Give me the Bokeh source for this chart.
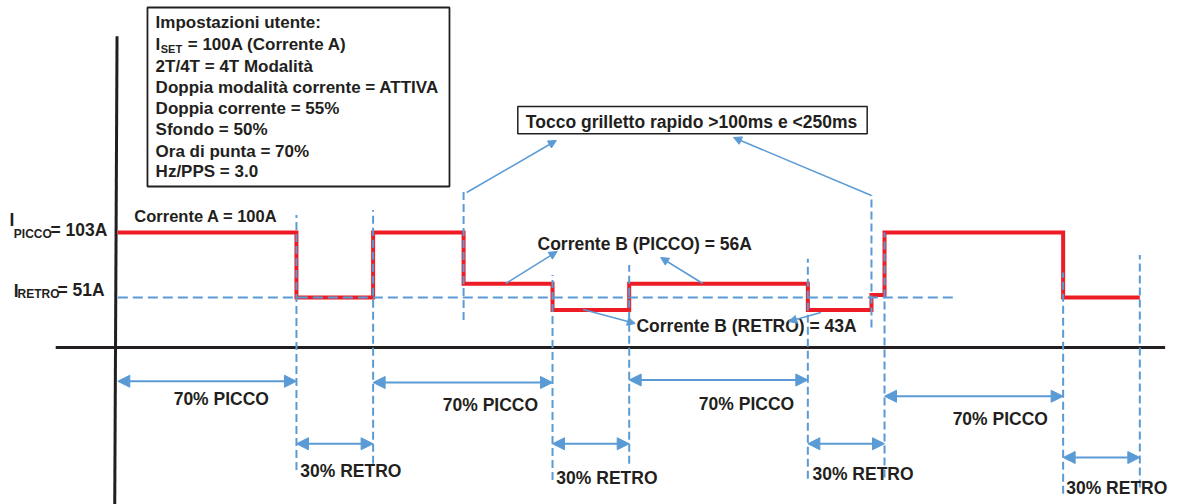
from bokeh.plotting import figure
from bokeh.models import Range1d, Arrow, NormalHead, ColumnDataSource
from bokeh.core.properties import value
from bokeh.embed import file_html
from bokeh.resources import INLINE

# ---------------- data ----------------
# waveform: time breakpoints (ms) and drawn current level (A) of each segment
t_edges = [0, 233, 333, 451, 567, 667, 900, 983, 1000, 1233, 1333]
levels = [103, 51, 103, 62, 41, 62, 41, 53, 103, 51]

# duration spans (ms) and their labels
span_start = [0, 233, 333, 567, 667, 900, 1000, 1233]
span_end = [233, 333, 567, 667, 900, 1000, 1233, 1333]
span_labels = ["70% PICCO", "30% RETRO", "70% PICCO", "30% RETRO",
               "70% PICCO", "30% RETRO", "70% PICCO", "30% RETRO"]
span_arrow_y = [-16, -66, -17, -66, -15, -66, -28, -77]
span_label_x = [135, 238, 486, 572, 820, 906, 1151, 1237]
span_label_y = [-30, -88, -35, -93, -34, -90, -46, -101]
span_label_align = ["center", "left", "center", "left", "center", "left", "center", "left"]

# dashed time markers (ms) with their vertical extent (A)
marker_t = [233, 333, 451, 567, 667, 900, 983, 1000, 1233, 1333]
marker_top = [117, 121, 137, 69, 77, 82, 133, 103, 71, 85]
marker_bottom = [-87, -82, 33, -95, -82, -94, 27, -93, -106, -101]

retro_level = 51
settings = ["Impostazioni utente:", "", "2T/4T = 4T Modalità",
            "Doppia modalità corrente = ATTIVA", "Doppia corrente = 55%",
            "Sfondo = 50%", "Ora di punta = 70%", "Hz/PPS = 3.0"]

RED = "#ED1C24"
BLUE = "#5B9BD5"
INK = "#231F20"
FONT = value("Liberation Sans")

p = figure(width=1190, height=504, x_range=Range1d(-153.0, 1399.1),
           y_range=Range1d(-114.6, 288.6), x_axis_type=None, y_axis_type=None,
           output_backend="svg", toolbar_location=None, min_border=0)
p.grid.visible = False
p.outline_line_color = None

# axes of the diagram
p.line([-1, -4], [260, -115], line_color=INK, line_width=3)
p.line([-81, 1366], [11, 11], line_color=INK, line_width=3)

# waveform
xs, ys = [], []
for i, lv in enumerate(levels):
    xs += [t_edges[i], t_edges[i + 1]]
    ys += [lv, lv]
p.line(xs, ys, line_color=RED, line_width=4, line_join="miter")

# dashed reference lines
p.line([0, 1090], [retro_level, retro_level], line_color=BLUE, line_width=1.8, line_dash="10 5")
p.segment(x0=marker_t, y0=marker_bottom, x1=marker_t, y1=marker_top,
          line_color=BLUE, line_width=2, line_dash="8 4")

# duration arrows
src = ColumnDataSource(dict(x0=span_start, x1=span_end, y=span_arrow_y))
p.add_layout(Arrow(x_start="x0", y_start="y", x_end="x1", y_end="y", source=src,
                   line_color=BLUE, line_width=2,
                   start=NormalHead(size=12, fill_color=BLUE, line_color=BLUE),
                   end=NormalHead(size=12, fill_color=BLUE, line_color=BLUE)))

for al in ["center", "left"]:
    idx = [i for i, a in enumerate(span_label_align) if a == al]
    p.text(x=[span_label_x[i] for i in idx], y=[span_label_y[i] for i in idx],
           text=[span_labels[i] for i in idx], text_font=FONT, text_font_style="bold",
           text_font_size="17.5px", text_color=INK, text_align=al, text_baseline="middle")

# pointer arrows
ptr = ColumnDataSource(dict(
    x0=[455, 983, 506, 763, 607, 917],
    y0=[135, 132.6, 62.2, 62.2, 41.4, 39],
    x1=[572, 803, 573, 708, 675, 875],
    y1=[176.6, 179, 87.8, 83, 30.2, 31.8]))
p.add_layout(Arrow(x_start="x0", y_start="y0", x_end="x1", y_end="y1", source=ptr,
                   line_color=BLUE, line_width=1.5,
                   end=NormalHead(size=8, fill_color=BLUE, line_color=BLUE)))

# settings box
p.quad(left=[38.7], right=[432.6], bottom=[139.8], top=[283],
       fill_color="white", line_color=INK, line_width=1.8)
sy = [271, 253.4, 236.2, 219.2, 202.2, 185.2, 168.2, 151.6]
p.text(x=[49.3] * 8, y=sy, text=settings, text_font=FONT, text_font_style="bold",
       text_font_size="17px", text_color=INK, text_align="left", text_baseline="middle")
p.text(x=[49.3], y=[sy[1]], text=["I"], text_font=FONT, text_font_style="bold",
       text_font_size="17px", text_color=INK, text_baseline="middle")
p.text(x=[56], y=[sy[1] - 3.6], text=["SET"], text_font=FONT, text_font_style="bold",
       text_font_size="11px", text_color=INK, text_baseline="middle")
p.text(x=[91.2], y=[sy[1]], text=["= 100A (Corrente A)"], text_font=FONT, text_font_style="bold",
       text_font_size="17px", text_color=INK, text_baseline="middle")

# trigger box
p.quad(left=[521.7], right=[977.4], bottom=[182], top=[203.8],
       fill_color="white", line_color=INK, line_width=1.5)
p.text(x=[748.3], y=[191.2], text=["Tocco grilletto rapido >100ms e <250ms"], text_font=FONT,
       text_font_style="bold", text_font_size="17.5px", text_color=INK,
       text_align="center", text_baseline="middle")

# level labels
p.text(x=[21.5], y=[116.6], text=["Corrente A = 100A"], text_font=FONT,
       text_font_style="bold", text_font_size="16.5px", text_color=INK, text_baseline="middle")
p.text(x=[547.4, 676.5], y=[94, 28],
       text=["Corrente B (PICCO) = 56A", "Corrente B (RETRO) = 43A"],
       text_font=FONT, text_font_style="bold", text_font_size="17.5px", text_color=INK,
       text_baseline="middle")
p.text(x=[-141.3, -87.8, -135.6, -78.6], y=[113.4, 105.4, 56.6, 57.2],
       text=["I", "= 103A", "I", "= 51A"], text_font=FONT, text_font_style="bold",
       text_font_size="17.5px", text_color=INK, text_baseline="middle")
p.text(x=[-135.6, -130.8], y=[102, 54], text=["PICCO", "RETRO"], text_font=FONT,
       text_font_style="bold", text_font_size="12px", text_color=INK, text_baseline="middle")

open("out.html", "w").write(file_html(p, INLINE))
